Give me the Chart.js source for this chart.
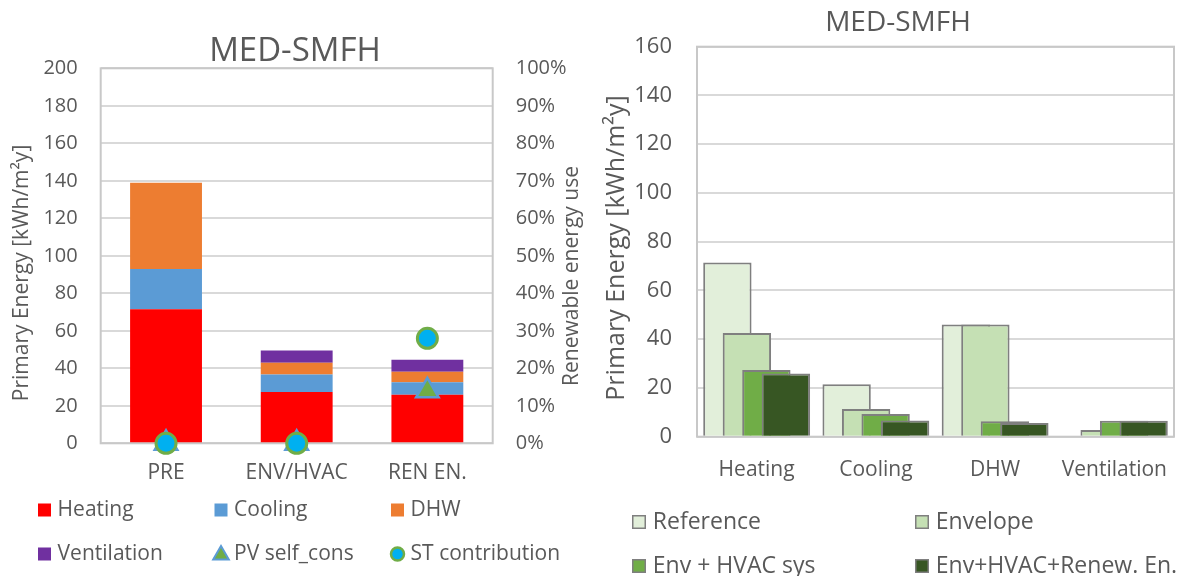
<!DOCTYPE html>
<html lang="en">

<head>
    <meta charset="UTF-8">
    <title>MED-SMFH</title>
    <script src="https://cdn.jsdelivr.net/npm/chart.js"></script>
    <style>
        html, body { margin: 0; padding: 0; background: #fff; }
        .painel { position: absolute; top: 0; }
        #painelCenarios { left: 0; }
        #painelUsos { left: 590px; }
    </style>
</head>

<body>
    <div class="painel" id="painelCenarios"><canvas id="graficoCenarios" width="590" height="576"></canvas></div>
    <div class="painel" id="painelUsos"><canvas id="graficoUsos" width="599" height="576"></canvas></div>
</body>

</html>

<script>
    // Primary energy per scenario, kWh/m²y (stacked by end use)
    const cenarios = ["PRE", "ENV/HVAC", "REN EN."];
    const heating = [71.5, 27.4, 25.9];
    const cooling = [21.5, 9.3, 6.6];
    const dhw = [46, 6.3, 5.6];
    const ventilation = [0, 6.5, 6.5];

    // Renewable energy use, %
    const pvSelfCons = [0, 0, 14];
    const stContribution = [0, 0, 28];

    // Primary energy per end use, kWh/m²y
    const usos = ["Heating", "Cooling", "DHW", "Ventilation"];
    const reference = [71.5, 21.5, 46, 0];
    const envelope = [42.5, 11.4, 46, 2.7];
    const envHvac = [27.4, 9.3, 6.3, 6.5];
    const envHvacRenew = [25.9, 6.6, 5.6, 6.5];

    const corTexto = "#595959";
    Chart.defaults.font.family = "'Open Sans', sans-serif";
    Chart.defaults.color = corTexto;

    // gray box round the plot area
    const moldura = {
        id: "moldura",
        beforeDatasetsDraw(chart) {
            const { ctx, chartArea: a } = chart;
            ctx.save();
            ctx.strokeStyle = "#C8C8C8";
            ctx.lineWidth = 2;
            ctx.strokeRect(a.left, a.top, a.right - a.left, a.bottom - a.top);
            ctx.restore();
        }
    };

    // later series painted over earlier ones (overlapping bars)
    const ordemSeries = {
        id: "ordemSeries",
        beforeDatasetsDraw(chart) {
            chart.data.datasets.forEach(function (ds, i) {
                const meta = chart.getDatasetMeta(i);
                if (!meta.hidden) meta.controller.draw();
            });
            return false;
        }
    };

    // rotated axis titles, read bottom to top
    function titulosLaterais(itens) {
        return {
            id: "titulosLaterais",
            afterDraw(chart) {
                const ctx = chart.ctx;
                itens.forEach(function (t) {
                    ctx.save();
                    ctx.translate(t.x, t.y);
                    ctx.rotate(-Math.PI / 2);
                    ctx.font = t.size + "px 'Open Sans'";
                    ctx.fillStyle = corTexto;
                    ctx.textAlign = "center";
                    ctx.textBaseline = "middle";
                    ctx.fillText(t.text, 0, 0);
                    ctx.restore();
                });
            }
        };
    }

    // legend laid out in fixed columns under the chart
    function legendaGrade(cfg) {
        return {
            id: "legendaGrade",
            afterDraw(chart) {
                const ctx = chart.ctx;
                ctx.save();
                ctx.font = cfg.fontSize + "px 'Open Sans'";
                ctx.textBaseline = "middle";
                chart.data.datasets.forEach(function (ds, i) {
                    const x = cfg.left + (i % cfg.columns) * cfg.colWidth;
                    const y = cfg.top + Math.floor(i / cfg.columns) * cfg.rowHeight;
                    const s = cfg.box;
                    const cx = x + s / 2;
                    ctx.fillStyle = ds.backgroundColor;
                    ctx.strokeStyle = ds.borderColor || ds.backgroundColor;
                    if (ds.pointStyle === "circle") {
                        ctx.lineWidth = 2.5;
                        ctx.beginPath();
                        ctx.arc(cx, y, 6.5, 0, Math.PI * 2);
                        ctx.fill();
                        ctx.stroke();
                    } else if (ds.pointStyle === "triangle") {
                        const r = 9;
                        ctx.lineWidth = 2;
                        ctx.beginPath();
                        ctx.moveTo(cx, y - r + 1);
                        ctx.lineTo(cx + r * 0.866, y + r * 0.5 + 1);
                        ctx.lineTo(cx - r * 0.866, y + r * 0.5 + 1);
                        ctx.closePath();
                        ctx.fill();
                        ctx.stroke();
                    } else {
                        ctx.fillRect(x, y - s / 2, s, s);
                        if (ds.borderWidth) {
                            ctx.lineWidth = 1.5;
                            ctx.strokeRect(x + 0.75, y - s / 2 + 0.75, s - 1.5, s - 1.5);
                        }
                    }
                    ctx.fillStyle = corTexto;
                    ctx.fillText(ds.label, x + cfg.textOffset, y);
                });
                ctx.restore();
            }
        };
    }

    function plotarCenarios() {
        const barra = { order: 3, barPercentage: 0.55, categoryPercentage: 1 };
        const config = {
            type: "bar",
            data: {
                labels: cenarios,
                datasets: [
                    { ...barra, label: "Heating", data: heating, backgroundColor: "#FF0000" },
                    { ...barra, label: "Cooling", data: cooling, backgroundColor: "#5B9BD5" },
                    { ...barra, label: "DHW", data: dhw, backgroundColor: "#ED7D31" },
                    { ...barra, label: "Ventilation", data: ventilation, backgroundColor: "#7030A0" },
                    {
                        type: "line", label: "PV self_cons", data: pvSelfCons, yAxisID: "y1",
                        showLine: false, pointStyle: "triangle", pointRadius: 13,
                        backgroundColor: "#70AD47", borderColor: "#5B9BD5", borderWidth: 2.5,
                        order: 2, clip: false
                    },
                    {
                        type: "line", label: "ST contribution", data: stContribution, yAxisID: "y1",
                        showLine: false, pointStyle: "circle", pointRadius: 10,
                        backgroundColor: "#00B0F0", borderColor: "#70AD47", borderWidth: 3,
                        order: 1, clip: false
                    }
                ]
            },
            options: {
                responsive: false,
                animation: false,
                layout: { padding: { left: 0, right: 0, top: 0, bottom: 72.7 } },
                scales: {
                    x: {
                        stacked: true,
                        grid: { display: false },
                        border: { display: false },
                        ticks: { font: { size: 21 }, padding: 9 },
                        afterFit: function (s) { s.height = 60; }
                    },
                    y: {
                        stacked: true,
                        min: 0,
                        max: 200,
                        ticks: { stepSize: 20, font: { size: 20 }, padding: 23 },
                        grid: { color: "#D9D9D9", lineWidth: 2, drawTicks: false },
                        border: { display: false },
                        afterFit: function (s) { s.width = 100.7; }
                    },
                    y1: {
                        position: "right",
                        min: 0,
                        max: 100,
                        ticks: { stepSize: 10, font: { size: 20 }, padding: 23, callback: function (v) { return v + "%"; } },
                        grid: { display: false, drawTicks: false },
                        border: { display: false },
                        afterFit: function (s) { s.width = 97.3; }
                    }
                },
                plugins: {
                    legend: { display: false },
                    tooltip: { enabled: false },
                    title: {
                        display: true,
                        text: "MED-SMFH",
                        color: corTexto,
                        font: { size: 33, weight: "normal", lineHeight: 1 },
                        padding: { top: 35, bottom: 0.3 }
                    }
                }
            },
            plugins: [
                moldura,
                legendaGrade({ left: 38, top: 510, columns: 3, colWidth: 176.5, rowHeight: 44, box: 13, textOffset: 19.6, fontSize: 21 }),
                titulosLaterais([
                    { text: "Primary Energy [kWh/m²y]", x: 21.7, y: 273, size: 21 },
                    { text: "Renewable energy use", x: 572.5, y: 276, size: 21 }
                ])
            ]
        };
        new Chart(document.getElementById("graficoCenarios"), config);
    }

    function plotarUsos() {
        const barra = { borderColor: "#7F7F7F", borderWidth: 2, barPercentage: 2.48, categoryPercentage: 0.654 };
        const config = {
            type: "bar",
            data: {
                labels: usos,
                datasets: [
                    { ...barra, label: "Reference", data: reference, backgroundColor: "#E2EFDA" },
                    { ...barra, label: "Envelope", data: envelope, backgroundColor: "#C5E0B4" },
                    { ...barra, label: "Env + HVAC sys", data: envHvac, backgroundColor: "#70AD47" },
                    { ...barra, label: "Env+HVAC+Renew. En.", data: envHvacRenew, backgroundColor: "#375623" }
                ]
            },
            options: {
                responsive: false,
                animation: false,
                layout: { padding: { left: 32, right: 15, top: 0, bottom: 79.3 } },
                scales: {
                    x: {
                        grid: { display: false },
                        border: { display: false },
                        ticks: { font: { size: 21 }, padding: 13 },
                        afterFit: function (s) { s.height = 60; }
                    },
                    y: {
                        min: 0,
                        max: 160,
                        ticks: { stepSize: 20, font: { size: 22 }, padding: 25 },
                        grid: { color: "#D9D9D9", lineWidth: 2, drawTicks: false },
                        border: { display: false },
                        afterFit: function (s) { s.width = 75; }
                    }
                },
                plugins: {
                    legend: { display: false },
                    tooltip: { enabled: false },
                    title: {
                        display: true,
                        text: "MED-SMFH",
                        color: corTexto,
                        font: { size: 28, weight: "normal", lineHeight: 1 },
                        padding: { top: 9, bottom: 9.7 }
                    }
                }
            },
            plugins: [
                moldura,
                ordemSeries,
                legendaGrade({ left: 42, top: 522, columns: 2, colWidth: 283, rowHeight: 44, box: 14, textOffset: 20.8, fontSize: 23 }),
                titulosLaterais([
                    { text: "Primary Energy [kWh/m²y]", x: 26.7, y: 248, size: 25 }
                ])
            ]
        };
        new Chart(document.getElementById("graficoUsos"), config);
    }

    plotarCenarios();
    plotarUsos();
</script>
